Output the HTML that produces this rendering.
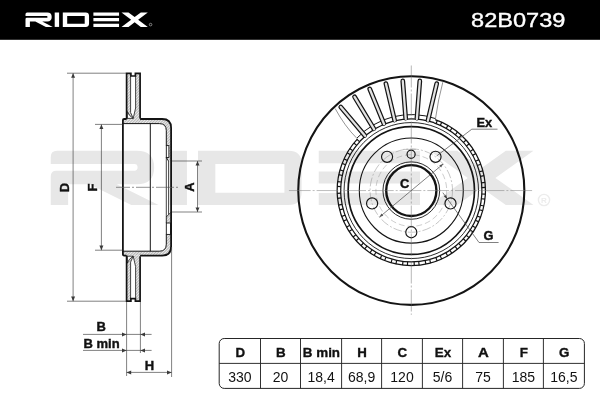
<!DOCTYPE html>
<html><head><meta charset="utf-8"><title>82B0739</title>
<style>html,body{margin:0;padding:0;background:#fff;}body{width:600px;height:400px;overflow:hidden;font-family:"Liberation Sans",sans-serif;}svg{will-change:transform;filter:grayscale(1);}</style></head>
<body>
<svg width="600" height="400" viewBox="0 0 600 400" style="display:block;font-family:'Liberation Sans',sans-serif">
<rect x="0" y="0" width="600" height="400" fill="#fff"/>
<g transform="translate(50.76,150.8) scale(3.947,3.985)"><path fill="#e7e7e7" d="M1.6,0 H21.8 Q26.2,0 26.2,4.2 Q26.2,8.4 21.8,8.4 H16.7 L27.3,13.6 H20.4 L9.8,8.4 H4.4 V13.6 H0 V6.4 Q0,5 1.4,5 H21.2 Q22,5 22,4.15 Q22,3.3 21.2,3.3 H0 V1.6 Q0,0 1.6,0 Z"/><rect fill="#e7e7e7" x="30.099999999999998" y="0" width="4.4" height="13.6"/><path fill="#e7e7e7" fill-rule="evenodd" d="M37.3,0 H60.2 Q63.55,0 63.55,3.2 V10.4 Q63.55,13.6 60.2,13.6 H37.3 Z M41.7,3.3 V10.5 H59.2 V3.3 Z"/><path fill="#e7e7e7" d="M67.9,0 H93.55 V3.1 H67.9 Z M67.9,5.2 H93.55 V8.2 H67.9 Z M67.9,10.6 H93.55 V13.6 H67.9 Z"/><path fill="#e7e7e7" d="M96,0 H103 L109.15,4.33 L115.3,0 H122.3 L112.65,6.8 L122.3,13.6 H115.3 L109.15,9.27 L103,13.6 H96 L105.65,6.8 Z"/></g>
<circle cx="544" cy="200" r="5.6" fill="none" stroke="#ececec" stroke-width="1.4"/>
<text x="544" y="203" font-size="8" font-weight="bold" fill="#ececec" text-anchor="middle">R</text>
<rect x="0" y="0" width="600" height="39.8" fill="#000"/>
<g transform="translate(25.5,12.5) scale(1.0,1.06)"><path fill="#fff" d="M1.6,0 H21.8 Q26.2,0 26.2,4.2 Q26.2,8.4 21.8,8.4 H16.7 L27.3,13.6 H20.4 L9.8,8.4 H4.4 V13.6 H0 V6.4 Q0,5 1.4,5 H21.2 Q22,5 22,4.15 Q22,3.3 21.2,3.3 H0 V1.6 Q0,0 1.6,0 Z"/><rect fill="#fff" x="29.2" y="0" width="4.4" height="13.6"/><path fill="#fff" fill-rule="evenodd" d="M37.3,0 H60.2 Q63.55,0 63.55,3.2 V10.4 Q63.55,13.6 60.2,13.6 H37.3 Z M41.7,3.3 V10.5 H59.2 V3.3 Z"/><path fill="#fff" d="M67.9,0 H93.55 V3.1 H67.9 Z M67.9,5.2 H93.55 V8.2 H67.9 Z M67.9,10.6 H93.55 V13.6 H67.9 Z"/><path fill="#fff" d="M96,0 H103 L109.15,4.33 L115.3,0 H122.3 L112.65,6.8 L122.3,13.6 H115.3 L109.15,9.27 L103,13.6 H96 L105.65,6.8 Z"/></g>
<circle cx="150.6" cy="24.6" r="1.3" fill="none" stroke="#ccc" stroke-width="0.6"/>
<text x="471" y="26.7" font-size="19.6" fill="#fff" stroke="#fff" stroke-width="0.35" textLength="94.5" lengthAdjust="spacingAndGlyphs">82B0739</text>
<defs><pattern id="h" width="2" height="2" patternUnits="userSpaceOnUse" patternTransform="rotate(45)"><rect width="2" height="2" fill="#ececec"/><rect width="0.8" height="2" fill="#a8a8a8"/></pattern></defs>
<path fill="url(#h)" d="M126.3,73.2 H130.6 V112.5 L133.2,118.4 L135.6,108 V73.2 H140.4 V119 H126.3 Z"/><path fill="url(#h)" d="M122.6,119.0 H162.2 Q171.3,119.0 171.3,128.1 V161 H168.6 L166.3,157.5 V130.6 Q166.3,123.6 159.3,123.6 H122.6 Z"/><rect x="166.3" y="145.6" width="2.6" height="11.9" fill="#fff" stroke="#141414" stroke-width="0.9"/><path fill="none" stroke="#141414" stroke-width="0.9" d="M166.3,157.5 L168.6,161.2"/><path fill="none" stroke="#141414" stroke-width="1.0" d="M122.6,123.6 H159.3 Q166.3,123.6 166.3,130.6 V145.6"/><path fill="#fff" stroke="#141414" stroke-width="0.8" d="M127.3,111.5 Q128.6,115.6 133.2,118.4 L127.3,118.4 Z"/><path fill="#fff" stroke="#141414" stroke-width="0.8" d="M130.6,76 V112.5 L133.2,118.4 L135.6,108 V76"/><path fill="none" stroke="#141414" stroke-width="1.7" stroke-linejoin="miter" d="M126.6,119.0 V73.4 H130.9 V76 H135.4 V73.4 H140.1 V118.4"/><path fill="none" stroke="#141414" stroke-width="1.8" stroke-linejoin="round" d="M122.9,187.3 V120.3 Q122.9,119.0 124.2,119.0 H126.6 M140.1,119.0 H162.2 Q171.1,119.0 171.1,128.0 V187.3"/>
<path fill="url(#h)" d="M126.3,301.4 H130.6 V262.1 L133.2,256.2 L135.6,266.6 V301.4 H140.4 V255.6 H126.3 Z"/><path fill="url(#h)" d="M122.6,255.6 H162.2 Q171.3,255.6 171.3,246.5 V212.3 L166.3,217 V244.2 Q166.3,251.2 159.3,251.2 H122.6 Z"/><rect x="166.3" y="223" width="4.2" height="11.4" fill="#fff" stroke="#141414" stroke-width="0.9"/><path fill="none" stroke="#141414" stroke-width="0.9" d="M171,212.3 L166.3,217 V223"/><path fill="none" stroke="#141414" stroke-width="1.0" d="M122.6,251.2 H159.3 Q166.3,251.2 166.3,244.2 V234.4"/><path fill="#fff" stroke="#141414" stroke-width="0.8" d="M127.3,263.1 Q128.6,259.0 133.2,256.2 L127.3,256.2 Z"/><path fill="#fff" stroke="#141414" stroke-width="0.8" d="M130.6,298.6 V262.1 L133.2,256.2 L135.6,266.6 V298.6"/><path fill="none" stroke="#141414" stroke-width="1.7" stroke-linejoin="miter" d="M126.6,255.6 V301.2 H130.9 V298.6 H135.4 V301.2 H140.1 V256.2"/><path fill="none" stroke="#141414" stroke-width="1.8" stroke-linejoin="round" d="M122.9,187.3 V254.29999999999998 Q122.9,255.6 124.2,255.6 H126.6 M140.1,255.6 H162.2 Q171.1,255.6 171.1,246.6 V187.3"/>
<path fill="none" stroke="#141414" stroke-width="0.8" d="M166.3,157.5 V217 M168.6,161 V214.5"/>
<path fill="none" stroke="#141414" stroke-width="1.0" d="M150.3,123.6 V251.2"/>
<path stroke="#4a4a4a" stroke-width="0.6" fill="none" stroke-dasharray="14 2 2 2" d="M116,187.3 H178"/>
<path stroke="#4a4a4a" stroke-width="0.7" fill="none" d="M67,73.2 H126 M67,301.2 H126 M73.1,73.2 V301.2"/>
<path fill="#3a3a3a" d="M73.10,73.20 L75.10,77.80 L71.10,77.80 Z"/>
<path fill="#3a3a3a" d="M73.10,301.20 L71.10,296.60 L75.10,296.60 Z"/>
<path stroke="#4a4a4a" stroke-width="0.7" fill="none" d="M95,124.4 H122.5 M95,250.2 H122.5 M101.4,124.4 V250.2"/>
<path fill="#3a3a3a" d="M101.40,124.40 L103.40,129.00 L99.40,129.00 Z"/>
<path fill="#3a3a3a" d="M101.40,250.20 L99.40,245.60 L103.40,245.60 Z"/>
<path stroke="#4a4a4a" stroke-width="0.7" fill="none" d="M172,161 H202 M172,212 H202 M197.5,161 V212"/>
<path fill="#3a3a3a" d="M197.50,161.00 L199.50,165.60 L195.50,165.60 Z"/>
<path fill="#3a3a3a" d="M197.50,212.00 L195.50,207.40 L199.50,207.40 Z"/>
<path stroke="#4a4a4a" stroke-width="0.7" fill="none" d="M126.6,302 V376 M140.4,302 V353 M171.6,247 V377"/>
<path stroke="#4a4a4a" stroke-width="0.7" fill="none" d="M83,334.4 H151.6 M83,350.4 H151.6 M126.6,372.4 H171.6"/>
<path fill="#3a3a3a" d="M126.60,334.40 L122.00,336.40 L122.00,332.40 Z"/>
<path fill="#3a3a3a" d="M140.40,334.40 L145.00,332.40 L145.00,336.40 Z"/>
<path fill="#3a3a3a" d="M126.60,350.40 L122.00,352.40 L122.00,348.40 Z"/>
<path fill="#3a3a3a" d="M140.40,350.40 L145.00,348.40 L145.00,352.40 Z"/>
<path fill="#3a3a3a" d="M126.60,372.40 L131.20,370.40 L131.20,374.40 Z"/>
<path fill="#3a3a3a" d="M171.60,372.40 L167.00,374.40 L167.00,370.40 Z"/>
<text font-size="13" font-weight="bold" fill="#111" stroke="#111" stroke-width="0.4" transform="translate(69,187.6) rotate(-90)" text-anchor="middle">D</text>
<text font-size="13" font-weight="bold" fill="#111" stroke="#111" stroke-width="0.4" transform="translate(96.8,187.6) rotate(-90)" text-anchor="middle">F</text>
<text font-size="13" font-weight="bold" fill="#111" stroke="#111" stroke-width="0.4" transform="translate(193.6,187) rotate(-90)" text-anchor="middle">A</text>
<text font-size="13" font-weight="bold" fill="#111" stroke="#111" stroke-width="0.4" x="101.3" y="331.2" text-anchor="middle">B</text>
<text font-size="13" font-weight="bold" fill="#111" stroke="#111" stroke-width="0.4" x="101.6" y="348" text-anchor="middle">B min</text>
<text font-size="13" font-weight="bold" fill="#111" stroke="#111" stroke-width="0.4" x="149.5" y="369.8" text-anchor="middle">H</text>
<g transform="translate(411.3,190.55) scale(0.9886,1) translate(-411.3,-190.55)">
<circle cx="411.3" cy="190.55" r="114.35" fill="none" stroke="#141414" stroke-width="2.1" />
<path fill="none" stroke="#141414" stroke-width="1.25"  d="M435.47,119.55 A75.0,75.0 0 1 1 356.90,138.92"/>
<path fill="none" stroke="#141414" stroke-width="1.25"  d="M434.31,122.96 A71.4,71.4 0 1 1 359.51,141.40"/>
<path fill="none" stroke="#141414" stroke-width="3.8" stroke-dasharray="1.2 3.6 1.2 5.498" stroke-dashoffset="-1.727" d="M434.89,121.26 A73.2,73.2 0 1 1 358.20,140.16"/>
<path fill="none" stroke="#141414" stroke-width="1.0"  d="M356.17,138.24 A76.0,76.0 0 0 1 435.79,118.60"/>
<path fill="none" stroke="#141414" stroke-width="1.3"  d="M359.29,141.19 A71.7,71.7 0 0 1 434.41,122.68"/>
<line x1="364.15" y1="135.34" x2="339.93" y2="106.98" stroke="#141414" stroke-width="4.8" stroke-linecap="round"/>
<line x1="364.67" y1="135.95" x2="339.93" y2="106.98" stroke="#e2e2e2" stroke-width="2.3" stroke-linecap="round"/>
<line x1="373.37" y1="128.65" x2="353.88" y2="96.84" stroke="#141414" stroke-width="4.8" stroke-linecap="round"/>
<line x1="373.78" y1="129.33" x2="353.88" y2="96.84" stroke="#e2e2e2" stroke-width="2.3" stroke-linecap="round"/>
<line x1="383.52" y1="123.48" x2="369.24" y2="89.02" stroke="#141414" stroke-width="4.8" stroke-linecap="round"/>
<line x1="383.82" y1="124.22" x2="369.24" y2="89.02" stroke="#e2e2e2" stroke-width="2.3" stroke-linecap="round"/>
<line x1="394.35" y1="119.96" x2="385.64" y2="83.69" stroke="#141414" stroke-width="4.8" stroke-linecap="round"/>
<line x1="394.54" y1="120.73" x2="385.64" y2="83.69" stroke="#e2e2e2" stroke-width="2.3" stroke-linecap="round"/>
<line x1="405.60" y1="118.17" x2="402.68" y2="80.99" stroke="#141414" stroke-width="4.8" stroke-linecap="round"/>
<line x1="405.67" y1="118.97" x2="402.68" y2="80.99" stroke="#e2e2e2" stroke-width="2.3" stroke-linecap="round"/>
<line x1="417.00" y1="118.17" x2="419.92" y2="80.99" stroke="#141414" stroke-width="4.8" stroke-linecap="round"/>
<line x1="416.93" y1="118.97" x2="419.92" y2="80.99" stroke="#e2e2e2" stroke-width="2.3" stroke-linecap="round"/>
<line x1="428.25" y1="119.96" x2="436.96" y2="83.69" stroke="#141414" stroke-width="4.8" stroke-linecap="round"/>
<line x1="428.06" y1="120.73" x2="436.96" y2="83.69" stroke="#e2e2e2" stroke-width="2.3" stroke-linecap="round"/>
<path fill="none" stroke="#4a4a4a" stroke-width="0.6" d="M334.29,108.54 Q344.06,126.30 355.81,137.89"/>
<path fill="none" stroke="#4a4a4a" stroke-width="0.6" d="M443.20,82.15 Q438.44,99.51 435.79,118.60"/>
<circle cx="411.3" cy="190.55" r="68.0" fill="none" stroke="#141414" stroke-width="0.9" />
<circle cx="411.3" cy="190.55" r="63.9" fill="none" stroke="#141414" stroke-width="1.7" />
<circle cx="411.3" cy="190.55" r="52.6" fill="none" stroke="#141414" stroke-width="1.1" />
<circle cx="411.3" cy="190.55" r="41.7" fill="none" stroke="#8c8c8c" stroke-width="0.5" stroke-dasharray="9 2 2 2"/>
<circle cx="411.3" cy="190.55" r="35.8" fill="none" stroke="#9a9a9a" stroke-width="0.5" stroke-dasharray="6 3"/>
<circle cx="411.3" cy="190.55" r="28.7" fill="none" stroke="#141414" stroke-width="0.9" />
<circle cx="411.3" cy="190.55" r="25.4" fill="none" stroke="#141414" stroke-width="2.4" />
<circle cx="450.96" cy="203.44" r="5.6" fill="none" stroke="#141414" stroke-width="1.15"/>
<circle cx="411.30" cy="232.25" r="5.6" fill="none" stroke="#141414" stroke-width="1.15"/>
<circle cx="371.64" cy="203.44" r="5.6" fill="none" stroke="#141414" stroke-width="1.15"/>
<circle cx="386.79" cy="156.81" r="5.6" fill="none" stroke="#141414" stroke-width="1.15"/>
<circle cx="435.81" cy="156.81" r="5.6" fill="none" stroke="#141414" stroke-width="1.15"/>
<circle cx="411.1" cy="154.3" r="4.1" fill="none" stroke="#141414" stroke-width="1.2"/>
<path stroke="#999" stroke-width="0.6" d="M403.4,149.4 H416"/>
<path stroke="#6e6e6e" stroke-width="0.5" fill="none" stroke-dasharray="22 2 2 2" d="M411.3,65.5 V314.8"/>
<path stroke="#7a7a7a" stroke-width="0.5" fill="none" stroke-dasharray="22 2 2 2" d="M287.5,190.55 H534.5"/>
<path stroke="#4a4a4a" stroke-width="0.7" d="M443.48,164.03 L379.12,217.07"/>
<path fill="#555" d="M443.48,164.03 L441.44,167.52 L439.65,165.36 Z"/>
<path fill="#555" d="M379.12,217.07 L381.16,213.58 L382.95,215.74 Z"/>
<text font-size="13" font-weight="bold" fill="#111" stroke="#111" stroke-width="0.4" x="404.6" y="188.2" text-anchor="middle">C</text>
<path stroke="#4a4a4a" stroke-width="0.7" fill="none" d="M498.5,129.2 H472.5 L437.01,155.91"/>
<text font-size="13" font-weight="bold" fill="#111" stroke="#111" stroke-width="0.4" x="485.2" y="126.8" text-anchor="middle">Ex</text>
<path stroke="#4a4a4a" stroke-width="0.7" fill="none" d="M499.6,242.5 H479.8 L443.16,192.64"/>
<path fill="#3a3a3a" d="M447.76,199.04 L444.28,196.61 L446.55,194.97 Z"/>
<text font-size="13" font-weight="bold" fill="#111" stroke="#111" stroke-width="0.4" x="489.3" y="239.6" text-anchor="middle">G</text>
</g>
<rect x="219.2" y="338.5" width="365.2" height="49.89999999999998" rx="5" ry="5" fill="#fff" stroke="#262626" stroke-width="1.0"/>
<path stroke="#262626" stroke-width="0.95" d="M219.2,363.4 H584.4"/>
<path stroke="#262626" stroke-width="0.95" d="M260.50,338.5 V388.4"/>
<path stroke="#262626" stroke-width="0.95" d="M300.50,338.5 V388.4"/>
<path stroke="#262626" stroke-width="0.95" d="M341.60,338.5 V388.4"/>
<path stroke="#262626" stroke-width="0.95" d="M381.60,338.5 V388.4"/>
<path stroke="#262626" stroke-width="0.95" d="M422.40,338.5 V388.4"/>
<path stroke="#262626" stroke-width="0.95" d="M462.60,338.5 V388.4"/>
<path stroke="#262626" stroke-width="0.95" d="M503.40,338.5 V388.4"/>
<path stroke="#262626" stroke-width="0.95" d="M543.40,338.5 V388.4"/>
<text x="235.45" y="357.4" font-size="13.4" font-weight="bold" fill="#111" stroke="#111" stroke-width="0.35" textLength="9.6" lengthAdjust="spacingAndGlyphs">D</text>
<text x="239.85" y="382.2" font-size="14" fill="#111" text-anchor="middle">330</text>
<text x="280.90" y="357.4" font-size="13.4" font-weight="bold" fill="#111" stroke="#111" stroke-width="0.35" text-anchor="middle">B</text>
<text x="280.50" y="382.2" font-size="14" fill="#111" text-anchor="middle">20</text>
<text x="321.45" y="357.4" font-size="13.4" font-weight="bold" fill="#111" stroke="#111" stroke-width="0.35" text-anchor="middle">B min</text>
<text x="321.05" y="382.2" font-size="14" fill="#111" text-anchor="middle">18,4</text>
<text x="357.20" y="357.4" font-size="13.4" font-weight="bold" fill="#111" stroke="#111" stroke-width="0.35" textLength="9.6" lengthAdjust="spacingAndGlyphs">H</text>
<text x="361.60" y="382.2" font-size="14" fill="#111" text-anchor="middle">68,9</text>
<text x="402.40" y="357.4" font-size="13.4" font-weight="bold" fill="#111" stroke="#111" stroke-width="0.35" text-anchor="middle">C</text>
<text x="402.00" y="382.2" font-size="14" fill="#111" text-anchor="middle">120</text>
<text x="442.90" y="357.4" font-size="13.4" font-weight="bold" fill="#111" stroke="#111" stroke-width="0.35" text-anchor="middle">Ex</text>
<text x="442.50" y="382.2" font-size="14" fill="#111" text-anchor="middle">5/6</text>
<text x="478.00" y="357.4" font-size="13.4" font-weight="bold" fill="#111" stroke="#111" stroke-width="0.35" textLength="10.8" lengthAdjust="spacingAndGlyphs">A</text>
<text x="483.00" y="382.2" font-size="14" fill="#111" text-anchor="middle">75</text>
<text x="523.80" y="357.4" font-size="13.4" font-weight="bold" fill="#111" stroke="#111" stroke-width="0.35" text-anchor="middle">F</text>
<text x="523.40" y="382.2" font-size="14" fill="#111" text-anchor="middle">185</text>
<text x="564.30" y="357.4" font-size="13.4" font-weight="bold" fill="#111" stroke="#111" stroke-width="0.35" text-anchor="middle">G</text>
<text x="563.90" y="382.2" font-size="14" fill="#111" text-anchor="middle">16,5</text>
</svg>
</body></html>
